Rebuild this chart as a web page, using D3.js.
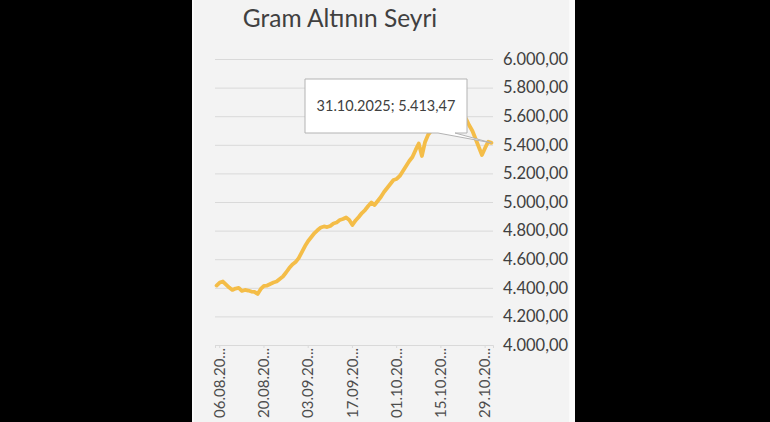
<!DOCTYPE html>
<html>
	<head>
		<meta charset="UTF-8">
		<title>Gram Altının Seyri</title>
		<script type="text/javascript" src="https://cdn.jsdelivr.net/npm/d3@7"></script>
		<style>
			body { margin: 0; background: #000; }
			text { font-family: Lato, "Open Sans", sans-serif; }
		</style>
	</head>
	<body>
		<script>
			var chartTitle = "Gram Altının Seyri";

			//one entry per day, 05.08.2025 - 31.10.2025
			var dates = [
				"05.08.2025","06.08.2025","07.08.2025","08.08.2025","09.08.2025","10.08.2025","11.08.2025","12.08.2025","13.08.2025","14.08.2025",
				"15.08.2025","16.08.2025","17.08.2025","18.08.2025","19.08.2025","20.08.2025","21.08.2025","22.08.2025","23.08.2025","24.08.2025",
				"25.08.2025","26.08.2025","27.08.2025","28.08.2025","29.08.2025","30.08.2025","31.08.2025","01.09.2025","02.09.2025","03.09.2025",
				"04.09.2025","05.09.2025","06.09.2025","07.09.2025","08.09.2025","09.09.2025","10.09.2025","11.09.2025","12.09.2025","13.09.2025",
				"14.09.2025","15.09.2025","16.09.2025","17.09.2025","18.09.2025","19.09.2025","20.09.2025","21.09.2025","22.09.2025","23.09.2025",
				"24.09.2025","25.09.2025","26.09.2025","27.09.2025","28.09.2025","29.09.2025","30.09.2025","01.10.2025","02.10.2025","03.10.2025",
				"04.10.2025","05.10.2025","06.10.2025","07.10.2025","08.10.2025","09.10.2025","10.10.2025","11.10.2025","12.10.2025","13.10.2025",
				"14.10.2025","15.10.2025","16.10.2025","17.10.2025","18.10.2025","19.10.2025","20.10.2025","21.10.2025","22.10.2025","23.10.2025",
				"24.10.2025","25.10.2025","26.10.2025","27.10.2025","28.10.2025","29.10.2025","30.10.2025","31.10.2025"
			];

			//gram gold price (TL)
			var prices = [
				4416, 4437, 4444, 4423, 4402, 4385, 4395, 4399, 4378, 4385,
				4381, 4374, 4371, 4357, 4392, 4413, 4416, 4427, 4437, 4444,
				4462, 4479, 4507, 4538, 4563, 4580, 4608, 4650, 4692, 4727,
				4755, 4783, 4804, 4822, 4829, 4825, 4832, 4850, 4857, 4874,
				4881, 4892, 4874, 4839, 4871, 4895, 4923, 4944, 4972, 4997,
				4979, 5007, 5035, 5070, 5098, 5126, 5154, 5161, 5182, 5217,
				5252, 5287, 5315, 5364, 5409, 5322, 5420, 5472, 5500, 5560,
				5600, 5640, 5700, 5790, 5720, 5730, 5760, 5640, 5620, 5580,
				5535, 5497, 5441, 5385, 5329, 5378, 5422, 5413.47
			];

			//axis ticks
			var yTicks = [4000, 4200, 4400, 4600, 4800, 5000, 5200, 5400, 5600, 5800, 6000];
			var xTickIndex = [1, 15, 29, 43, 57, 71, 85];

			var w = 770;
			var h = 422;

			//turkish number format 5.413,47
			var trLocale = d3.formatLocale({decimal: ",", thousands: ".", grouping: [3], currency: ["", " TL"]});
			var fmt = trLocale.format(",.2f");

			var svg = d3.select("body")
				.append("svg")
				.attr("width", w)
				.attr("height", h)
				.style("display", "block");

			//black frame + chart panel
			svg.append("rect").attr("width", w).attr("height", h).attr("fill", "#000");
			svg.append("rect")
				.attr("x", 192).attr("y", 0)
				.attr("width", 383).attr("height", h)
				.attr("fill", "#fafafa");
			svg.append("rect")
				.attr("x", 194).attr("y", 0)
				.attr("width", 375).attr("height", h)
				.attr("fill", "#f3f3f3");

			//scales
			var xScale = d3.scaleBand()
				.domain(d3.range(dates.length))
				.range([215, 493]);

			var yScale = d3.scaleLinear()
				.domain([4000, 6000])
				.range([345, 59]);

			function xc(i) {
				return xScale(i) + xScale.bandwidth() / 2;
			}

			//title
			svg.append("text")
				.attr("x", 340)
				.attr("y", 27)
				.attr("text-anchor", "middle")
				.attr("font-size", "24.5px")
				.attr("fill", "#404040")
				.text(chartTitle);

			//gridlines
			var grid = svg.append("g")
				.attr("transform", "translate(493,0)")
				.call(d3.axisLeft(yScale).tickValues(yTicks).tickSize(493 - 215).tickFormat(""));
			grid.select(".domain").remove();
			grid.selectAll("line").attr("stroke", "#d9d9d9");

			//y labels on the right
			var yAxis = svg.append("g")
				.attr("transform", "translate(503,0)")
				.call(d3.axisRight(yScale).tickValues(yTicks).tickSize(0).tickFormat(fmt));
			yAxis.select(".domain").remove();
			yAxis.selectAll("text")
				.attr("x", 0)
				.attr("font-size", "16.5px")
				.attr("font-family", "Lato, sans-serif")
				.attr("fill", "#404040");

			//x axis, every 14th day
			var xAxis = svg.append("g")
				.attr("transform", "translate(0,345)")
				.call(d3.axisBottom(xScale).tickValues(xTickIndex).tickSize(3).tickFormat(function(i) {
					return dates[i].slice(0, 8) + "...";
				}));
			xAxis.select(".domain").attr("stroke", "#d9d9d9");
			xAxis.selectAll("line").attr("stroke", "#d9d9d9");
			xAxis.selectAll("text")
				.attr("transform", "rotate(-90)")
				.attr("text-anchor", "end")
				.attr("x", -3)
				.attr("y", 0)
				.attr("dy", "0.35em")
				.attr("font-size", "15px")
				.attr("font-family", "Lato, sans-serif")
				.attr("fill", "#4d4d4d");

			//price line
			var line = d3.line()
				.x(function(d, i) { return xc(i); })
				.y(function(d) { return yScale(d); });

			svg.append("path")
				.datum(prices)
				.attr("d", line)
				.attr("fill", "none")
				.attr("stroke", "#f4bd48")
				.attr("stroke-width", 3.8)
				.attr("stroke-linejoin", "round")
				.attr("stroke-linecap", "round");

			//callout for the last point
			var last = prices.length - 1;
			var px = xc(last);
			var py = yScale(prices[last]);
			var bx0 = 305, bx1 = 467, by0 = 79, by1 = 133;
			var callout = d3.path();
			callout.moveTo(bx0, by0);
			callout.lineTo(bx1, by0);
			callout.lineTo(bx1, by1);
			callout.lineTo(455, by1);
			callout.lineTo(px, py);
			callout.lineTo(438, by1);
			callout.lineTo(bx0, by1);
			callout.closePath();

			svg.append("path")
				.attr("d", callout.toString())
				.attr("fill", "#fff")
				.attr("stroke", "#b3b3b3")
				.attr("stroke-width", 1);

			svg.append("text")
				.attr("x", (bx0 + bx1) / 2)
				.attr("y", (by0 + by1) / 2)
				.attr("dy", "0.35em")
				.attr("text-anchor", "middle")
				.attr("font-size", "14.5px")
				.attr("fill", "#404040")
				.text(dates[last] + "; " + fmt(prices[last]));
		</script>
	</body>
</html>
